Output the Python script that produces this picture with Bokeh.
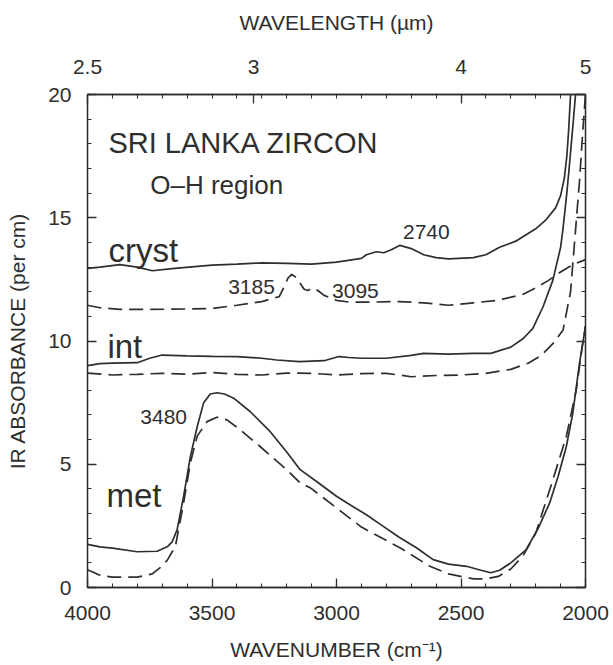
from bokeh.plotting import figure
from bokeh.models import Range1d, LinearAxis, FixedTicker, CustomJSTickFormatter
from bokeh.core.properties import value
from bokeh.embed import file_html
from bokeh.resources import INLINE

# ---- data (wavenumber cm^-1, absorbance per cm) ----
cryst_solid_wn = [4000, 3950, 3870, 3800, 3740, 3650, 3500, 3400, 3300, 3200, 3100, 3000, 2900, 2880,
                  2840, 2810, 2780, 2745, 2700, 2650, 2600, 2550, 2450, 2400, 2345, 2280, 2240, 2200,
                  2160, 2120, 2100, 2085, 2075, 2068, 2060, 2052]
cryst_solid_y = [12.95, 13.0, 13.1, 13.0, 12.85, 12.95, 13.08, 13.12, 13.17, 13.15, 13.12, 13.2, 13.35, 13.5,
                 13.62, 13.58, 13.7, 13.88, 13.75, 13.5, 13.38, 13.33, 13.38, 13.5, 13.8, 14.05, 14.3, 14.55,
                 14.9, 15.4, 15.9, 16.6, 17.5, 18.5, 20.0, 21.5]

cryst_dash_wn = [4000, 3950, 3870, 3750, 3600, 3500, 3400, 3300, 3230, 3210, 3195, 3180, 3165, 3150,
                 3130, 3115, 3095, 3075, 3050, 3000, 2950, 2850, 2750, 2650, 2550, 2450, 2350, 2250,
                 2200, 2150, 2100, 2050, 2000]
cryst_dash_y = [11.45, 11.35, 11.28, 11.28, 11.3, 11.32, 11.45, 11.6, 11.8, 12.2, 12.55, 12.7, 12.6, 12.4,
                12.1, 12.05, 12.15, 12.05, 11.85, 11.65, 11.58, 11.58, 11.6, 11.55, 11.45, 11.55, 11.65, 11.9,
                12.15, 12.45, 12.8, 13.1, 13.3]

int_solid_wn = [4000, 3950, 3900, 3800, 3750, 3700, 3600, 3500, 3400, 3300, 3240, 3150, 3050, 2990,
                2950, 2900, 2800, 2700, 2650, 2550, 2450, 2380, 2300, 2250, 2212, 2170, 2131, 2100,
                2091, 2075, 2064, 2050, 2040, 2032]
int_solid_y = [9.0, 9.08, 9.1, 9.12, 9.3, 9.43, 9.4, 9.38, 9.37, 9.3, 9.23, 9.16, 9.2, 9.37,
               9.33, 9.3, 9.3, 9.42, 9.5, 9.47, 9.5, 9.5, 9.75, 10.1, 10.5, 11.4, 12.47, 13.8,
               14.5, 16.0, 17.2, 18.8, 20.0, 21.5]

int_dash_wn = [4000, 3900, 3800, 3700, 3600, 3500, 3400, 3300, 3200, 3100, 3000, 2900, 2800, 2700,
               2600, 2500, 2400, 2300, 2230, 2180, 2130, 2090, 2060, 2040, 2024, 2011, 2000]
int_dash_y = [8.7, 8.62, 8.65, 8.69, 8.65, 8.72, 8.65, 8.62, 8.7, 8.69, 8.62, 8.68, 8.69, 8.55,
              8.6, 8.62, 8.69, 8.85, 9.1, 9.4, 9.9, 10.45, 12.0, 14.5, 16.5, 18.5, 20.0]

met_solid_wn = [4000, 3950, 3900, 3800, 3720, 3680, 3660, 3640, 3614, 3587, 3560, 3534, 3507, 3480,
                3450, 3413, 3347, 3267, 3200, 3146, 3080, 3000, 2946, 2880, 2812, 2750, 2679, 2612,
                2550, 2478, 2420, 2380, 2345, 2300, 2238, 2190, 2144, 2110, 2077, 2051, 2024, 2000]
met_solid_y = [1.75, 1.65, 1.6, 1.45, 1.47, 1.65, 1.85, 2.35, 3.7, 5.3, 6.5, 7.48, 7.85, 7.9,
               7.85, 7.68, 7.14, 6.33, 5.5, 4.78, 4.3, 3.7, 3.36, 2.95, 2.48, 2.05, 1.61, 1.13,
               0.95, 0.86, 0.7, 0.6, 0.7, 1.0, 1.54, 2.4, 3.43, 4.5, 5.72, 7.07, 9.1, 10.6]

met_dash_wn = [4000, 3950, 3900, 3800, 3740, 3707, 3680, 3647, 3614, 3587, 3560, 3520, 3480, 3440,
               3387, 3307, 3200, 3146, 3106, 3013, 2900, 2745, 2625, 2550, 2450, 2400, 2350, 2300,
               2250, 2200, 2131, 2077, 2037, 2013, 2000]
met_dash_y = [0.72, 0.5, 0.42, 0.42, 0.55, 0.82, 1.1, 1.67, 3.43, 5.05, 6.13, 6.73, 6.91, 6.8,
              6.4, 5.72, 4.78, 4.24, 4.05, 3.33, 2.45, 1.61, 0.86, 0.55, 0.35, 0.35, 0.45, 0.75,
              1.3, 2.2, 4.37, 6.13, 8.02, 9.77, 10.6]

bottom_ticks = [4000, 3500, 3000, 2500, 2000]
top_ticks_um = [2.5, 3, 4, 5]
y_ticks = [0, 5, 10, 15, 20]

INK = "#2e2e2e"
FONT = "Liberation Sans"

p = figure(width=611, height=663, x_range=Range1d(4000, 2000), y_range=Range1d(0, 20),
           output_backend="svg", toolbar_location=None,
           min_border_left=87, min_border_right=26, min_border_top=94, min_border_bottom=75)
p.xgrid.visible = False
p.ygrid.visible = False
p.outline_line_color = INK
p.outline_line_width = 1.3
p.background_fill_color = "white"
p.border_fill_color = "white"


def style_axis(ax):
    ax.axis_line_color = INK
    ax.axis_line_width = 1.3
    ax.major_tick_line_color = INK
    ax.minor_tick_line_color = INK
    ax.major_tick_line_width = 1.3
    ax.minor_tick_line_width = 1.1
    ax.major_tick_in = 9
    ax.major_tick_out = 0
    ax.minor_tick_in = 4
    ax.minor_tick_out = 0
    ax.major_label_text_font = FONT
    ax.major_label_text_font_size = "21px"
    ax.major_label_text_color = INK
    ax.axis_label_text_font = FONT
    ax.axis_label_text_font_size = "21px"
    ax.axis_label_text_font_style = "normal"
    ax.axis_label_text_color = INK


xa = p.xaxis[0]
xa.ticker = FixedTicker(ticks=bottom_ticks, minor_ticks=list(range(2000, 4001, 100)))
xa.axis_label = "WAVENUMBER (cm⁻¹)"
style_axis(xa)
xa.major_label_standoff = 18
xa.axis_label_standoff = 15

ya = p.yaxis[0]
ya.ticker = FixedTicker(ticks=y_ticks, minor_ticks=list(range(0, 21)))
ya.axis_label = "IR ABSORBANCE (per cm)"
style_axis(ya)
ya.major_label_standoff = 16
ya.axis_label_standoff = 16

top = LinearAxis(ticker=FixedTicker(ticks=[10000.0 / w for w in top_ticks_um],
                                    minor_ticks=list(range(2000, 4001, 100))),
                 formatter=CustomJSTickFormatter(code="""
                     const w = 10000/tick;
                     return Math.abs(w - Math.round(w)) < 1e-6 ? w.toFixed(0) : w.toFixed(1);
                 """),
                 axis_label="WAVELENGTH (µm)")
style_axis(top)
top.major_label_standoff = 21
top.axis_label_standoff = 23
p.add_layout(top, "above")

right = LinearAxis(ticker=FixedTicker(ticks=y_ticks, minor_ticks=list(range(0, 21))),
                   formatter=CustomJSTickFormatter(code="return '';"))
style_axis(right)
right.major_label_standoff = 0
p.add_layout(right, "right")

# ---- curves ----
LW = 1.7
DASH = "14 7"
p.line(cryst_solid_wn, cryst_solid_y, line_color=INK, line_width=LW)
p.line(cryst_dash_wn, cryst_dash_y, line_color=INK, line_width=LW, line_dash=DASH)
p.line(int_solid_wn, int_solid_y, line_color=INK, line_width=LW)
p.line(int_dash_wn, int_dash_y, line_color=INK, line_width=LW, line_dash=DASH)
p.line(met_solid_wn, met_solid_y, line_color=INK, line_width=LW)
p.line(met_dash_wn, met_dash_y, line_color=INK, line_width=LW, line_dash=DASH)

# ---- annotations ----
common = dict(text_font=value(FONT), text_color=INK, text_align="left", text_baseline="alphabetic")
p.text(x=[3916], y=[18.05], text=["SRI LANKA ZIRCON"], text_font_size="29px", **common)
p.text(x=[3748], y=[16.32], text=["O–H region"], text_font_size="26px", **common)
p.text(x=[3916, 3920, 3924], y=[13.69, 9.76, 3.73], text=["cryst", "int", "met"],
       text_font_size="33px", **common)
p.text(x=[2733, 3435, 3018, 3788], y=[14.42, 12.2, 12.04, 6.93],
       text=["2740", "3185", "3095", "3480"], text_font_size="21px", **common)

open("out.html", "w").write(file_html(p, INLINE))
